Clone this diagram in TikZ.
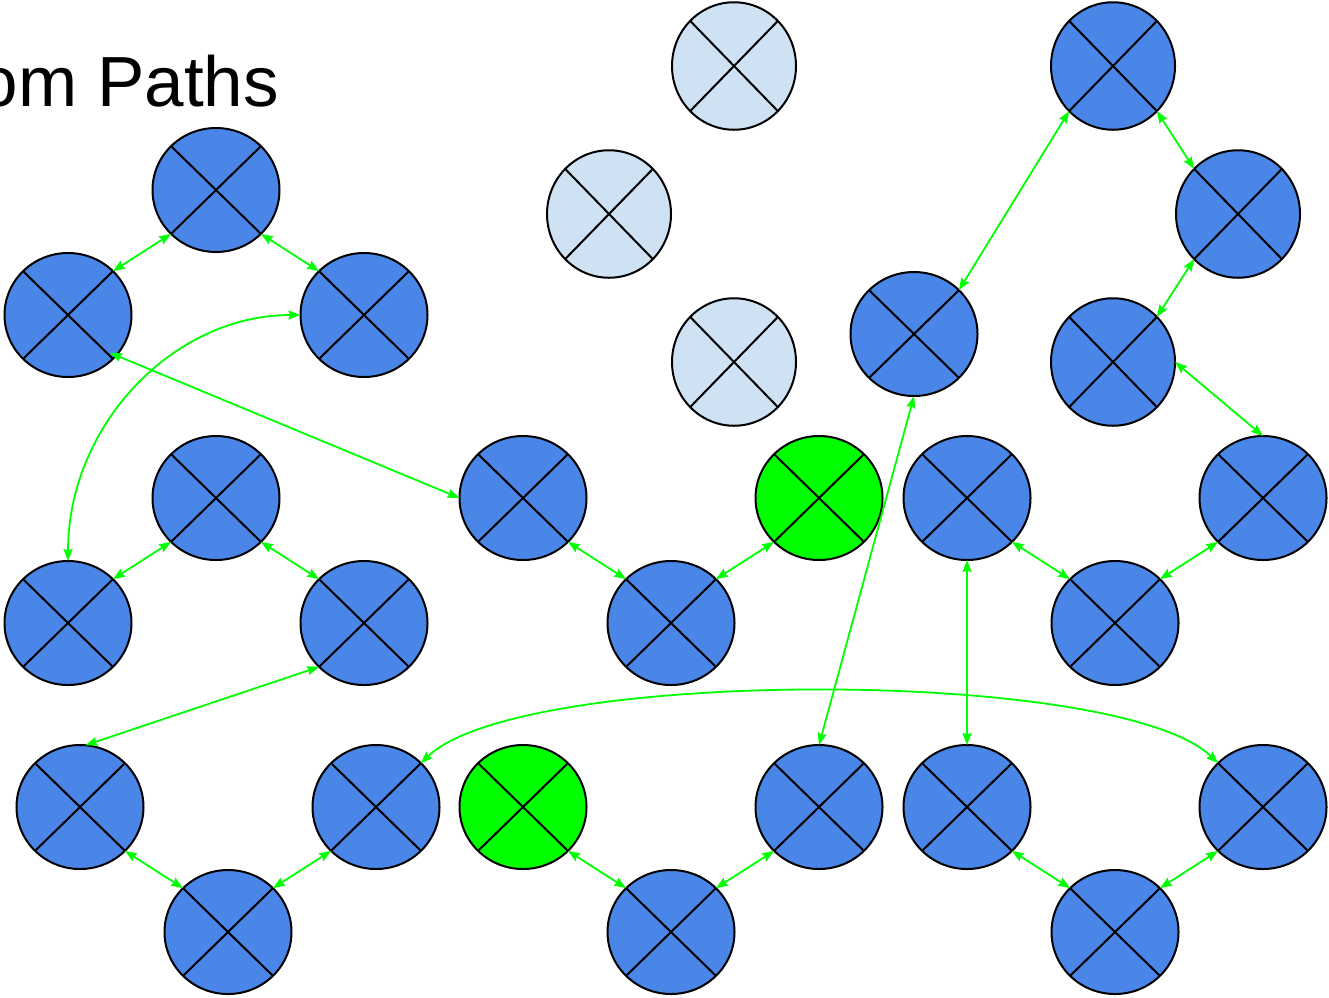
\documentclass[tikz,border=0pt]{standalone}
\usepackage{fontspec}
\setmainfont{Liberation Sans}
\usetikzlibrary{shapes.geometric,arrows.meta}
\definecolor{nodeblue}{HTML}{4A86E8}
\definecolor{paleblue}{HTML}{CFE2F3}
\definecolor{hotgreen}{HTML}{00FF00}
\tikzset{
  xwide/.style={ellipse, draw=black, line width=2pt, fill=nodeblue,
    minimum width=127pt, minimum height=124pt, inner sep=0pt, outer sep=0pt,
    path picture={\draw[black, line width=2pt]
      (path picture bounding box.north west) -- (path picture bounding box.south east)
      (path picture bounding box.north east) -- (path picture bounding box.south west);}},
  xtall/.style={xwide, minimum width=124pt, minimum height=127.5pt},
  pale/.style={fill=paleblue},
  hot/.style={fill=hotgreen},
  link/.style={draw=hotgreen, line width=1.8pt, <->,
    >={Stealth[length=12pt, width=9pt, inset=1.5pt]}},
  heading/.style={font=\fontsize{71}{80}\selectfont, inner sep=0pt, anchor=base east}
}
\begin{document}
\begin{tikzpicture}[x=1pt, y=-1pt]
  \useasboundingbox (0,0) rectangle (1329,997);
  \clip (0,0) rectangle (1329,997);

  \node[heading] (title) at (279,106) {om Paths};

  % faded nodes
  \node[xtall, pale] (L1) at (734,66)  {};
  \node[xtall, pale] (L2) at (609,214) {};
  \node[xtall, pale] (L3) at (734,362) {};

  % left column groups
  \node[xwide] (A1) at (216,190) {};
  \node[xwide] (A2) at (68,315)  {};
  \node[xwide] (A3) at (364,315) {};
  \node[xwide] (B1) at (216,498) {};
  \node[xwide] (B2) at (68,623)  {};
  \node[xwide] (B3) at (364,623) {};
  \node[xwide] (C1) at (80,807)  {};
  \node[xwide] (C2) at (228,932) {};
  \node[xwide] (C3) at (376,807) {};

  % middle groups
  \node[xwide] (D1) at (523,498) {};
  \node[xwide] (D2) at (671,623) {};
  \node[xwide, hot] (D3) at (819,498) {};
  \node[xwide, hot] (E1) at (523,807) {};
  \node[xwide] (E2) at (671,932) {};
  \node[xwide] (E3) at (819,807) {};

  % right groups
  \node[xwide] (F1) at (967,498)  {};
  \node[xwide] (F2) at (1115,623) {};
  \node[xwide] (F3) at (1263,498) {};
  \node[xwide] (G1) at (967,807)  {};
  \node[xwide] (G2) at (1115,932) {};
  \node[xwide] (G3) at (1263,807) {};
  \node[xwide] (H1) at (914,334)  {};
  \node[xtall] (H2) at (1113,66)  {};
  \node[xtall] (H3) at (1238,214) {};
  \node[xtall] (H4) at (1113,362) {};

  % links
  \draw[link] (A2.north east) -- (A1.south west);
  \draw[link] (A1.south east) -- (A3.north west);
  \draw[link] (A3.west) .. controls +(-128,0) and +(0,-135) .. (B2.north);
  \draw[link, shorten <=-7pt] (A2.-40) -- (D1.west);
  \draw[link] (B2.north east) -- (B1.south west);
  \draw[link] (B1.south east) -- (B3.north west);
  \draw[link] (B3.south west) -- (C1.85);
  \draw[link] (C1.south east) -- (C2.north west);
  \draw[link] (C2.north east) -- (C3.south west);
  \draw[link] (C3.north east) .. controls +(100,-96) and +(-100,-96) .. (G3.north west);
  \draw[link] (D1.south east) -- (D2.north west);
  \draw[link] (D2.north east) -- (D3.south west);
  \draw[link] (E1.south east) -- (E2.north west);
  \draw[link] (E2.north east) -- (E3.south west);
  \draw[link] (H1.south) -- (E3.north);
  \draw[link] (H1.north east) -- (H2.south west);
  \draw[link] (H2.south east) -- (H3.north west);
  \draw[link] (H3.south west) -- (H4.north east);
  \draw[link] (H4.east) -- (F3.north);
  \draw[link] (F1.south east) -- (F2.north west);
  \draw[link] (F2.north east) -- (F3.south west);
  \draw[link] (F1.south) -- (G1.north);
  \draw[link] (G1.south east) -- (G2.north west);
  \draw[link] (G2.north east) -- (G3.south west);
\end{tikzpicture}
\end{document}
